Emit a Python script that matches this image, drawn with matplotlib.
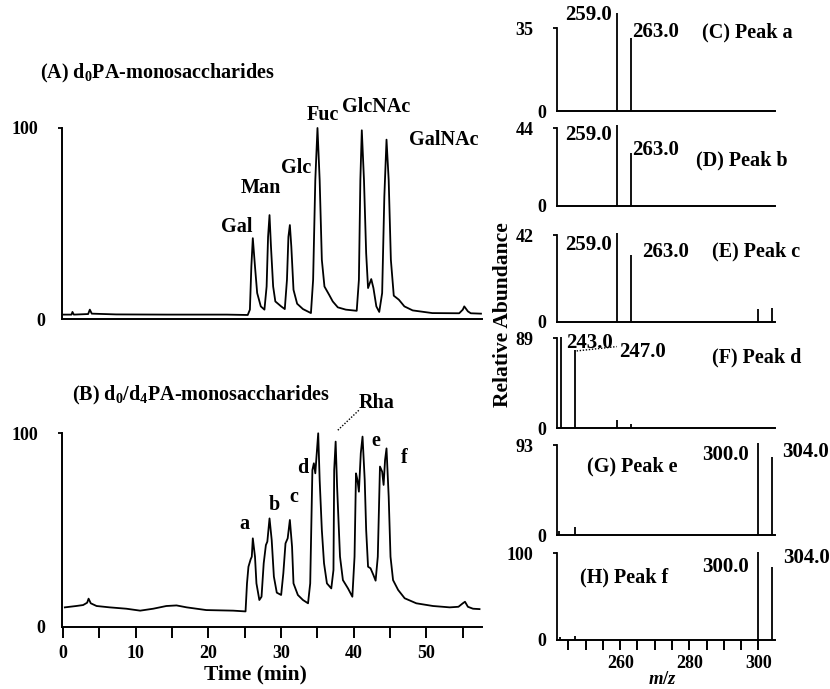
import matplotlib
matplotlib.use('Agg')
import matplotlib.pyplot as plt

plt.rcParams['font.family'] = ['Liberation Serif', 'DejaVu Serif']
plt.rcParams['font.weight'] = 'bold'
plt.rcParams['mathtext.fontset'] = 'custom'
plt.rcParams['mathtext.rm'] = 'Liberation Serif:bold'
plt.rcParams['mathtext.bf'] = 'Liberation Serif:bold'
plt.rcParams['mathtext.it'] = 'Liberation Serif:bold:italic'

# ---------------- data ----------------
# (A) d0PA-monosaccharides chromatogram
timeA = [0, 1.15, 1.28, 1.47, 3.44, 3.67, 3.94, 7.3, 14.2, 22.5, 25.4, 25.7, 25.9, 26.1, 26.4,
         26.7, 27.2, 27.7, 28.0, 28.2, 28.4, 28.6, 28.9, 29.2, 30.0, 30.5, 30.8, 31.0, 31.2,
         31.4, 31.7, 32.2, 33.0, 34.1, 34.4, 34.7, 35.0, 35.3, 35.6, 35.96, 36.6, 37.1, 37.8,
         38.9, 40.4, 40.7, 40.9, 41.1, 41.4, 41.7, 41.96, 42.4, 42.7, 43.1, 43.5, 43.9, 44.2,
         44.5, 44.8, 45.1, 45.5, 46.2, 46.96, 48.1, 50.8, 54.5, 55.0, 55.2, 55.7, 56.1, 57.5]
intensA = [2.3, 2.3, 3.7, 2.3, 2.6, 4.9, 2.8, 2.4, 2.3, 2.3, 2.1, 4.9, 27.5, 42.3, 27.5,
           13.6, 6.6, 4.9, 17, 43, 54.4, 37.9, 17, 9.2, 6.6, 5.2, 20.5, 43, 49.2,
           37.9, 15.3, 8, 5.2, 3.1, 20.5, 72.7, 100, 72.7, 31, 17, 12.7, 9.2, 6.1,
           4.9, 4.3, 20.5, 72.7, 98.8, 72.7, 34.4, 16.2, 20.9, 16.2, 6.6, 3.7, 13.6, 64,
           93.9, 72.7, 31, 12.2, 10.1, 6.6, 4.5, 3.1, 3.0, 4.9, 6.6, 4.0, 3.0, 2.8]
labelsA = ['Gal', 'Man', 'Glc', 'Fuc', 'GlcNAc', 'GalNAc']

# (B) d0/d4PA-monosaccharides chromatogram
timeB = [0.23, 1.8, 2.75, 3.3, 3.5, 3.8, 4.6, 6.4, 8.7, 10.6, 12.4, 14.2, 15.6, 17.0, 19.7,
         23.4, 25.1, 25.3, 25.5, 25.8, 25.96, 26.1, 26.4, 26.6, 27.0, 27.3, 27.6, 27.9, 28.1,
         28.4, 28.7, 29.0, 29.4, 30.0, 30.3, 30.6, 30.9, 31.2, 31.5, 31.7, 32.3, 33.0, 33.7,
         34.0, 34.3, 34.5, 34.7, 34.9, 35.1, 35.3, 35.6, 35.9, 36.3, 36.9, 37.2, 37.3, 37.5,
         37.7, 38.1, 38.5, 39.2, 39.8, 40.1, 40.3, 40.5, 40.7, 40.96, 41.2, 41.5, 41.7, 41.96,
         42.3, 42.7, 43.0, 43.3, 43.6, 43.9, 44.1, 44.3, 44.5, 44.8, 45.05, 45.4, 46.1, 47.0,
         48.6, 50.9, 53.2, 54.4, 55.0, 55.3, 55.7, 56.4, 57.3]
intensB = [10, 10.7, 11.2, 12.4, 14.5, 12.1, 10.7, 10, 9.3, 8.3, 9.3, 10.7, 11, 10, 8.6,
           8.3, 7.9, 22.4, 31, 34.8, 36.2, 45.7, 36.2, 22.4, 13.8, 15.5, 32.8, 42.2, 44,
           56, 44.8, 25.9, 17.6, 16.4, 27.6, 43.1, 45.7, 55.2, 41.4, 22.4, 16.4, 13.8, 12.1,
           22.4, 81, 84.5, 79.3, 89.7, 100, 75.9, 50, 32.8, 22.4, 19.8, 29.3, 81, 95.7,
           72.4, 36.2, 24.1, 19.8, 15.5, 36.2, 79.3, 75.9, 69.8, 89.7, 98.3, 75.9, 50, 31,
           30.2, 26.7, 23.8, 36.2, 82.8, 80.2, 73.3, 86.2, 92.2, 67.2, 36.2, 24.1, 19, 14.7,
           12.1, 10.7, 10, 10.3, 12.1, 12.9, 10.3, 9.3, 9.1]
labelsB = ['a', 'b', 'c', 'd', 'Rha', 'e', 'f']

# Mass spectra (C)-(H)
spec_titles = ['(C) Peak a', '(D) Peak b', '(E) Peak c', '(F) Peak d', '(G) Peak e', '(H) Peak f']
spec_tops = [35, 44, 42, 89, 93, 100]
spec_mz = [[259, 263],
           [259, 263],
           [259, 263, 300, 304],
           [243, 247, 259, 263],
           [242.4, 247, 300, 304],
           [242.6, 247, 300, 304]]
spec_ab = [[41.3, 31.0],
           [45.9, 30.2],
           [42.8, 32.3, 6.0, 6.6],
           [90, 77.5, 8.0, 4.0],
           [4.5, 8.6, 94.7, 81.0],
           [3.0, 4.6, 102, 84.6]]
spec_peak_labels = [['259.0', '263.0'], ['259.0', '263.0'], ['259.0', '263.0'],
                    ['243.0', '247.0'], ['300.0', '304.0'], ['300.0', '304.0']]
mz_ticklabels = [260, 280, 300]

# ---------------- layout ----------------
W, H = 830, 689
fig = plt.figure(figsize=(W / 100, H / 100), dpi=100)


def px_axes(x0, x1, ytop, ybot):
    return fig.add_axes([x0 / W, 1 - ybot / H, (x1 - x0) / W, (ybot - ytop) / H])


LW = 1.3
TXT = 14.5
PKL = 15
TICK = 13


def style_left(ax, show_x):
    for s in ['top', 'right']:
        ax.spines[s].set_visible(False)
    ax.spines['left'].set_linewidth(1.4)
    ax.spines['bottom'].set_linewidth(1.4)
    ax.set_xlim(-0.2, 57.6)
    ax.set_ylim(0, 100)
    ax.set_yticks([0, 100])
    ax.set_yticklabels(['0', '100'], fontsize=TICK, fontweight='bold')
    ax.tick_params(axis='y', length=3, width=1.3, direction='out')
    yt = ax.yaxis.get_major_ticks()
    yt[0].tick1line.set_visible(False)
    yt[0].set_pad(9)
    yt[1].set_pad(14)
    if show_x:
        ax.set_xticks(range(0, 60, 10))
        ax.set_xticks(range(0, 60, 5), minor=True)
        ax.tick_params(axis='x', which='both', length=8, width=1.4, direction='out', pad=5,
                       labelsize=TICK)
        for lab in ax.get_xticklabels():
            lab.set_fontweight('bold')
    else:
        ax.set_xticks([])


# Panel A
axA = px_axes(61.7, 481.7, 128, 319)
axA.plot(timeA, intensA, color='black', lw=LW, clip_on=False)
style_left(axA, False)
posA = [(23.9, 48.2), (27.2, 68.6), (32.0, 79.0), (35.7, 106.8), (43.1, 111.0), (52.4, 93.7)]
for lab, (x, y) in zip(labelsA, posA):
    axA.text(x, y, lab, ha='center', va='center', fontsize=TXT, fontweight='bold', clip_on=False)
axA.text(-3.2, 128.8, r'(A) d$_{0}$PA-monosaccharides', ha='left', va='center',
         fontsize=TXT, fontweight='bold', clip_on=False)

# Panel B
axB = px_axes(61.7, 481.7, 433.3, 626.7)
axB.plot(timeB, intensB, color='black', lw=LW, clip_on=False)
style_left(axB, True)
posB = [(24.9, 53.1), (29.0, 62.9), (31.8, 67.2), (33.0, 81.9), (43.1, 115.5), (43.0, 96.2), (47.0, 87.0)]
for lab, (x, y) in zip(labelsB, posB):
    axB.text(x, y, lab, ha='center', va='center', fontsize=TXT, fontweight='bold', clip_on=False)
axB.plot([37.8, 40.8], [101.6, 112.3], color='black', lw=1.0, ls=(0, (1, 1.2)), clip_on=False)
axB.text(1.2, 119.8, r'(B) d$_{0}$/d$_{4}$PA-monosaccharides', ha='left', va='center',
         fontsize=TXT, fontweight='bold', clip_on=False)
axB.set_xlabel('Time (min)', fontsize=TXT + 1, fontweight='bold')
axB.xaxis.set_label_coords(0.462, -0.195)

# Right panels C-H
rows = [(28.3, 111), (128.3, 206), (235, 321.7), (338.3, 428.3), (445, 535), (553.3, 640)]
title_pos = [(283.7, 33.4), (281.9, 26.0), (286.6, 33.8), (286.6, 69.6), (250.4, 70.3), (248.4, 72.6)]
lab_pos = [[(244.0, 40.6, 'left'), (263.4, 33.4, 'left')],
           [(244.0, 40.2, 'left'), (263.4, 31.7, 'left')],
           [(244.0, 37.2, 'left'), (266.3, 33.8, 'left')],
           [(244.3, 84.4, 'left'), (259.7, 75.5, 'left')],
           [(297.3, 82.7, 'right'), (306.9, 85.8, 'left')],
           [(297.3, 84.2, 'right'), (307.2, 94.5, 'left')]]

for i, (yt0, yb0) in enumerate(rows):
    ax = px_axes(557.3, 775, yt0, yb0)
    top = spec_tops[i]
    ax.vlines(spec_mz[i], 0, spec_ab[i], color='black', lw=1.3, clip_on=False)
    ax.set_xlim(241.8, 304.8)
    ax.set_ylim(0, top)
    for s in ['top', 'right']:
        ax.spines[s].set_visible(False)
    ax.spines['left'].set_linewidth(1.3)
    ax.spines['bottom'].set_linewidth(1.4)
    ax.set_yticks([0, top])
    ax.set_yticklabels(['0', str(top)], fontsize=TICK, fontweight='bold')
    ax.tick_params(axis='y', length=3, width=1.3, direction='out')
    yts = ax.yaxis.get_major_ticks()
    yts[0].tick1line.set_visible(False)
    yts[0].set_pad(5)
    yts[1].set_pad(14)
    if i == len(rows) - 1:
        ax.set_xticks(mz_ticklabels)
        ax.set_xticks(range(245, 305, 5), minor=True)
        ax.tick_params(axis='x', which='both', length=7, width=1.4, direction='out', pad=4,
                       labelsize=TICK)
        for lab in ax.get_xticklabels():
            lab.set_fontweight('bold')
    else:
        ax.set_xticks([])
    tx, ty = title_pos[i]
    ax.text(tx, ty, spec_titles[i], ha='left', va='center', fontsize=TXT, fontweight='bold',
            clip_on=False)
    for (lx, ly, ha), s in zip(lab_pos[i], spec_peak_labels[i]):
        ax.text(lx, ly, s, ha=ha, va='center', fontsize=PKL, fontweight='bold', clip_on=False)
    if i == 3:
        ax.plot([247.4, 259.0], [76.5, 80.8], color='black', lw=1.0, ls=(0, (1, 1.2)), clip_on=False)

fig.text(503 / W, 1 - 315 / H, 'Relative Abundance', rotation=90, ha='center', va='center',
         fontsize=TXT + 1, fontweight='bold')
fig.text(663 / W, 1 - 680 / H, r'$m/z$', ha='center', va='center', fontsize=TXT - 1)

fig.savefig('out.png', dpi=100, facecolor='white')
